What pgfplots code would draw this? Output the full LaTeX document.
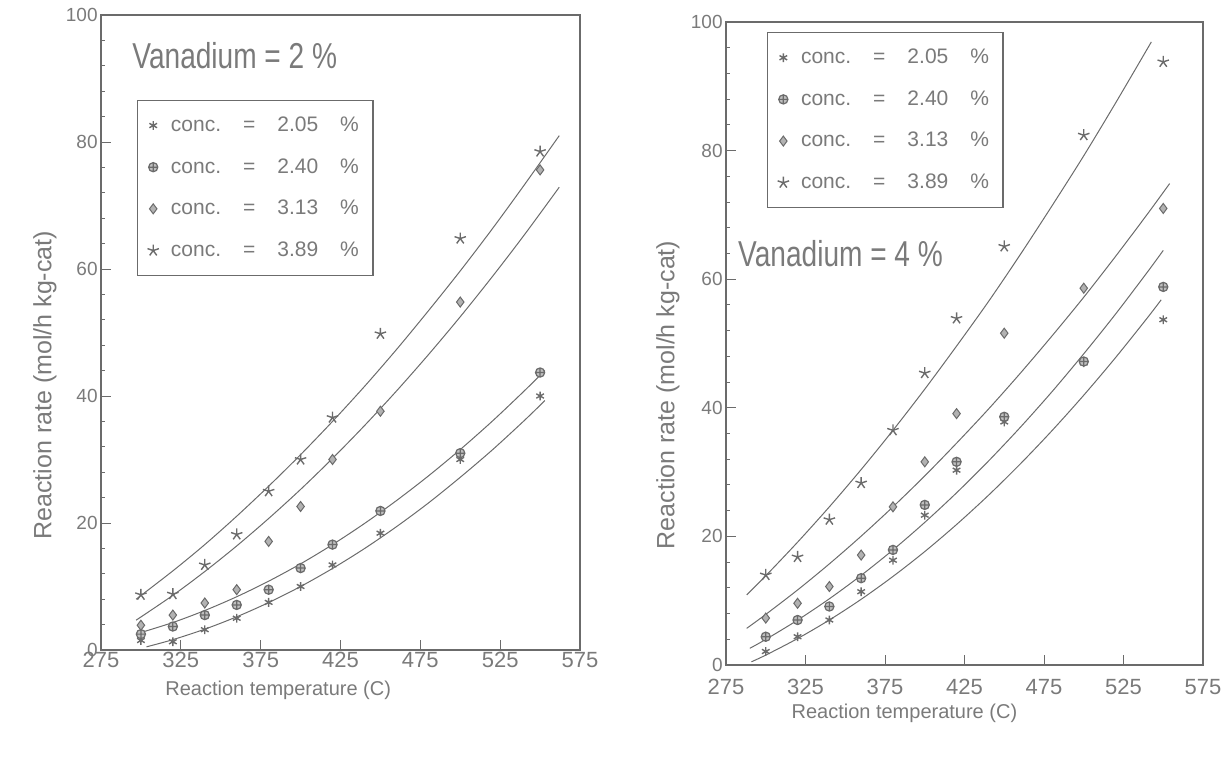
\documentclass[border=0pt]{standalone}
\usepackage{fontspec}
\setmainfont{Liberation Sans}
\usepackage{pgfplots}
\pgfplotsset{compat=1.18}

\definecolor{ink}{gray}{0.42}
\definecolor{txt}{gray}{0.48}

\pgfplotsset{
  vplot/.style={
    scale only axis, anchor=south west,
    xmin=275, xmax=575, ymin=0, ymax=100,
    xtick={275,325,...,575}, ytick={0,20,...,100},
    minor y tick num=4,
    tick pos=left, tick align=inside,
    major tick length=5pt, minor tick length=2pt,
    axis line style={ink, line width=0.6pt},
    every tick/.style={ink, line width=0.5pt},
    /pgf/number format/assume math mode=true,
    ticklabel style={txt},
    xticklabel style={font=\fontsize{11}{13}\selectfont, inner sep=1pt},
    yticklabel style={font=\fontsize{9.5}{11}\selectfont, inner sep=1.5pt},
    xlabel style={txt, font=\fontsize{10}{12}\selectfont},
    ylabel style={txt, font=\fontsize{12.5}{14}\selectfont},
    xlabel={Reaction temperature (C)},
    ylabel={Reaction rate (mol/h kg-cat)},
    legend cell align=left,
    legend style={draw=ink, line width=0.6pt, text=txt,
      font=\fontsize{10.5}{12}\selectfont,
      inner xsep=5pt, inner ysep=6pt, row sep=8pt, anchor=north west},
    legend image code/.code={\draw[#1] plot coordinates {(0.12cm,0cm)};},
  },
  fit/.style={ink, line width=0.5pt, smooth, no markers, forget plot},
  s205/.style={only marks, ink, mark=asterisk, mark size=2.2pt, mark options={line width=0.7pt}},
  s240/.style={only marks, ink, mark=oplus*, mark size=2.3pt, mark options={fill=black!25, line width=0.6pt}},
  s313/.style={only marks, ink, mark=diamond*, mark size=2.5pt, mark options={fill=black!30, line width=0.5pt}},
  s389/.style={only marks, ink, mark=star, mark size=3pt, mark options={line width=0.7pt}},
}

\newcommand{\conc}[1]{\hspace{4pt}conc.\hspace{11pt}=\hspace{11pt}#1\hspace{11pt}\%}

% measured points, vanadium 2 %
\pgfplotstableread{
T   c205 c240 c313 c389
300 1.5  2.5  3.9  8.7
320 1.3  3.7  5.5  8.8
340 3.2  5.5  7.4  13.4
360 5.0  7.1  9.5  18.2
380 7.5  9.5  17.1 25.0
400 10.0 12.9 22.6 30.0
420 13.4 16.6 30.0 36.6
450 18.4 21.9 37.6 49.8
500 30.0 31.0 54.8 64.8
550 40.0 43.7 75.6 78.5
}\vtwo

% measured points, vanadium 4 %
\pgfplotstableread{
T   c205 c240 c313 c389
300 2.1  4.4  7.3  14.0
320 4.4  7.0  9.6  16.8
340 7.0  9.1  12.2 22.6
360 11.4 13.5 17.1 28.3
380 16.3 17.9 24.6 36.5
400 23.3 24.9 31.6 45.4
420 30.3 31.6 39.1 53.9
450 37.8 38.6 51.6 65.1
500 47.0 47.2 58.6 82.4
550 53.7 58.8 71.0 93.8
}\vfour

\begin{document}
\begin{tikzpicture}
\path[use as bounding box] (0,0) rectangle (612.5pt,378.5pt);

% ---- left panel: vanadium = 2 %
\begin{axis}[vplot,
  at={(50.5pt,53.5pt)}, width=239.5pt, height=317.5pt,
  xlabel style={at={(rel axis cs:0.37,-0.063)}, anchor=center},
  ylabel style={at={(rel axis cs:-0.117,0.417)}, anchor=center},
  legend style={at={(rel axis cs:0.075,0.866)}},
]
\addplot[fit] coordinates {(297,8) (320,12.46) (340,16.6) (360,21.07) (380,25.8) (400,30.76) (420,36) (440,41.5) (460,47.3) (480,53.4) (500,59.7) (520,66.3) (540,73.2) (562,81.0)};
\addplot[fit] coordinates {(297,4.7) (320,8.61) (340,12.36) (360,16.39) (380,20.71) (400,25.29) (420,30.17) (440,35.33) (460,40.77) (480,46.49) (500,52.48) (520,58.77) (540,65.33) (562,72.88)};
\addplot[fit] coordinates {(298,2.6) (320,4.33) (340,6.22) (360,8.39) (380,10.84) (400,13.57) (420,16.6) (440,19.92) (460,23.52) (480,27.4) (500,31.57) (520,36.02) (540,40.78) (553,44.01)};
\addplot[fit] coordinates {(303.5,0.5) (320,1.63) (340,3.28) (360,5.23) (380,7.47) (400,10.0) (420,12.84) (440,15.97) (460,19.41) (480,23.14) (500,27.2) (520,31.49) (540,36.11) (553,39.28)};
\addplot[s205] table[x=T, y=c205] {\vtwo}; \addlegendentry{\conc{2.05}}
\addplot[s240] table[x=T, y=c240] {\vtwo}; \addlegendentry{\conc{2.40}}
\addplot[s313] table[x=T, y=c313] {\vtwo}; \addlegendentry{\conc{3.13}}
\addplot[s389] table[x=T, y=c389] {\vtwo}; \addlegendentry{\conc{3.89}}
\node[txt, anchor=base west, inner sep=0pt] at (axis cs:294.4,91.6)
  {\scalebox{0.78}[1]{\fontsize{18}{20}\selectfont Vanadium = 2 \%}};
\end{axis}

% ---- right panel: vanadium = 4 %
\begin{axis}[vplot,
  at={(363pt,46pt)}, width=238.5pt, height=321.5pt,
  xticklabel style={yshift=-6pt},
  xlabel style={at={(rel axis cs:0.374,-0.075)}, anchor=center},
  ylabel style={at={(rel axis cs:-0.122,0.42)}, anchor=center},
  legend style={at={(rel axis cs:0.086,0.984)}},
]
\addplot[fit] coordinates {(288,10.9) (300,13.88) (320,19.1) (340,24.6) (360,30.4) (380,36.5) (400,42.9) (420,49.6) (440,56.5) (460,63.8) (480,71.4) (500,79.2) (520,87.4) (542.5,96.9)};
\addplot[fit] coordinates {(288,5.7) (300,7.87) (320,11.67) (340,15.73) (360,20.04) (380,24.6) (400,29.41) (420,34.5) (440,39.78) (460,45.35) (480,51.17) (500,57.2) (520,63.55) (540,70.12) (554,74.87)};
\addplot[fit] coordinates {(290,2.6) (300,3.98) (320,6.98) (340,10.3) (360,13.94) (380,17.9) (400,22.18) (420,26.78) (440,31.7) (460,36.94) (480,42.5) (500,48.4) (520,54.58) (540,61.1) (550,64.48)};
\addplot[fit] coordinates {(291,0.5) (300,1.54) (320,4.11) (340,7.0) (360,10.22) (380,13.77) (400,17.64) (420,21.85) (440,26.38) (460,31.25) (480,36.44) (500,41.96) (520,47.81) (540,53.99) (548.7,56.8)};
\addplot[s205] table[x=T, y=c205] {\vfour}; \addlegendentry{\conc{2.05}}
\addplot[s240] table[x=T, y=c240] {\vfour}; \addlegendentry{\conc{2.40}}
\addplot[s313] table[x=T, y=c313] {\vfour}; \addlegendentry{\conc{3.13}}
\addplot[s389] table[x=T, y=c389] {\vfour}; \addlegendentry{\conc{3.89}}
\node[txt, anchor=base west, inner sep=0pt] at (axis cs:282.4,61.9)
  {\scalebox{0.78}[1]{\fontsize{18}{20}\selectfont Vanadium = 4 \%}};
\end{axis}
\end{tikzpicture}
\end{document}
